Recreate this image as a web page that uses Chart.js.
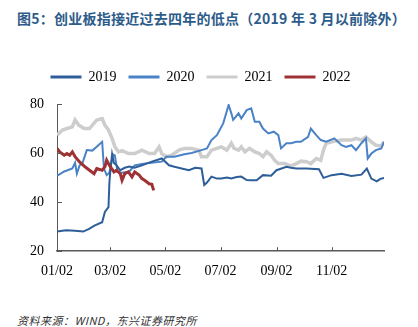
<!DOCTYPE html>
<html>
<head>
<meta charset="utf-8">
<script src="https://cdn.jsdelivr.net/npm/chart.js@4.4.0/dist/chart.umd.min.js"></script>
<style>
    body { margin: 0; width: 418px; height: 327px; background: #fff; position: relative; overflow: hidden; }
    #title { position: absolute; left: 17px; top: 8px; font: bold 14px "Noto Sans CJK SC"; color: #2E5C8A; letter-spacing: 0.25px; white-space: nowrap; }
    #source { position: absolute; left: 17px; top: 312px; font: italic 11px "Noto Sans CJK SC"; color: #333; letter-spacing: 0.5px; white-space: nowrap; }
    #wrap { position: absolute; left: 0; top: 0; width: 418px; height: 300px; }
</style>
</head>
<body>
<div id="title">图5：创业板指接近过去四年的低点（2019 年 3 月以前除外）</div>
<div id="wrap"><canvas id="myChart" width="418" height="300"></canvas></div>
<div id="source">资料来源：WIND，东兴证券研究所</div>
<script>
// x = days since 01/02
const xTickDays = [0, 59, 120, 181, 243, 304];
const xTickLabels = ['01/02', '03/02', '05/02', '07/02', '09/02', '11/02'];
const yTicks = [20, 40, 60, 80];

const days2019 = [0, 10, 20, 29, 35, 42, 50, 53, 57, 58, 59, 61, 63, 66, 70, 75, 80, 86, 94, 105, 116, 124, 130, 138, 146, 153, 160, 163, 166, 171, 177, 182, 188, 193, 199, 204, 210, 215, 221, 228, 237, 243, 254, 259, 265, 276, 290, 295, 304, 315, 326, 337, 343, 348, 354, 358, 362];
const vals2019 = [28, 28.5, 28.3, 28, 29, 30.5, 31.8, 36, 38, 48, 52.5, 59.5, 56, 55, 53, 54, 54.5, 54, 55, 56.5, 57.8, 55, 54.4, 53.7, 53, 54, 53.7, 47, 48, 50.4, 49.6, 49.6, 50, 49.6, 50.2, 50.4, 49, 48.9, 48.9, 51, 50.8, 53, 54.4, 54, 53.7, 53.7, 53.4, 49.9, 51, 51.6, 50.7, 51.2, 53.7, 49.6, 48.5, 49.5, 49.9];

const days2020 = [0, 8, 17, 20, 22, 25, 28, 33, 39, 44, 50, 52, 55, 58, 62, 64, 67, 72, 80, 86, 94, 102, 116, 121, 130, 141, 149, 160, 166, 171, 177, 184, 190, 193, 195, 201, 204, 210, 215, 219, 224, 228, 234, 240, 245, 248, 254, 259, 265, 270, 278, 281, 287, 292, 298, 307, 315, 320, 326, 331, 337, 342, 344, 348, 353, 359, 362];
const vals2020 = [50.7, 52.5, 53.7, 56, 51.6, 55, 55.7, 61.2, 61, 62.6, 64.6, 53.7, 51, 52, 59.5, 59.1, 52.3, 52, 52.5, 55, 55.5, 56, 56.5, 58.5, 58.5, 59.5, 60, 61.2, 61.9, 65.3, 67.3, 72.1, 79.6, 76.2, 73.5, 76.2, 74.1, 77.5, 78.2, 72.8, 72.8, 70, 68, 68.7, 67.3, 61.9, 64, 64, 64.6, 64.6, 66.6, 70, 67.3, 65.3, 64.6, 66, 63.2, 62.5, 63.2, 61.2, 64, 66, 57.8, 59.8, 61.2, 61.9, 64.6];

const days2021 = [0, 6, 11, 17, 20, 24, 30, 36, 44, 50, 53, 57, 61, 64, 68, 72, 79, 86, 94, 102, 108, 113, 116, 121, 127, 135, 141, 149, 157, 160, 166, 171, 177, 182, 188, 193, 196, 201, 204, 208, 213, 219, 224, 228, 232, 237, 241, 245, 252, 259, 265, 270, 276, 281, 287, 292, 295, 298, 304, 315, 326, 331, 337, 342, 348, 353, 359, 362];
const vals2021 = [67.3, 69.4, 70, 70.7, 73.5, 71.4, 70, 70, 73.5, 74.1, 71.4, 69.4, 66, 62.6, 60.5, 61, 59.8, 59.8, 61.2, 59.8, 59.8, 62.5, 59.8, 58.5, 59.1, 61.2, 61.9, 61.9, 61.2, 58.5, 58.5, 61.2, 61.9, 62.5, 61.2, 64, 61.9, 61.2, 62.5, 60.5, 61.9, 60.5, 59.8, 58.5, 60.5, 59.1, 57, 55.7, 55.7, 54.8, 55.7, 56.7, 56.5, 55.7, 57.8, 57, 61.2, 64, 64.6, 65.3, 65.3, 66, 65.3, 66.6, 64.6, 63.2, 62.9, 64.6];

const days2022 = [0, 3, 8, 11, 14, 17, 20, 25, 31, 36, 41, 44, 50, 53, 55, 58, 63, 66, 70, 72, 75, 79, 83, 86, 91, 94, 97, 102, 105, 107];
const vals2022 = [61.9, 60.5, 59.1, 59.8, 59.1, 60.5, 58.5, 56.4, 54.4, 53, 51.6, 53.7, 53, 54.4, 57.1, 55, 52.3, 53, 51.6, 48.9, 51.6, 52.3, 50.3, 52.3, 51, 49.6, 48.9, 47.5, 47.3, 44.8];

const axisColor = '#595959';
const toPoints = (d, v) => d.map((x, i) => ({ x: x, y: v[i] }));

const innerTicks = {
    id: 'innerTicks',
    beforeInit(chart) {
        const fit = chart.legend.fit;
        chart.legend.fit = function () {
            fit.bind(chart.legend)();
            this.height += 10;
        };
    },
    afterDraw(chart) {
        const ctx = chart.ctx;
        const xs = chart.scales.x, ys = chart.scales.y;
        ctx.save();
        ctx.strokeStyle = axisColor;
        ctx.lineWidth = 1;
        xTickDays.forEach(v => {
            const px = Math.round(xs.getPixelForValue(v)) + 0.5;
            ctx.beginPath(); ctx.moveTo(px, ys.bottom); ctx.lineTo(px, ys.bottom - 4); ctx.stroke();
        });
        yTicks.forEach(v => {
            const py = Math.round(ys.getPixelForValue(v)) + 0.5;
            ctx.beginPath(); ctx.moveTo(xs.left, py); ctx.lineTo(xs.left + 5, py); ctx.stroke();
        });
        ctx.restore();
    }
};

const ctx = document.getElementById('myChart');
new Chart(ctx, {
    type: 'line',
    data: {
        datasets: [
            { label: '2019', data: toPoints(days2019, vals2019), borderColor: '#2E5E9A', backgroundColor: '#2E5E9A', borderWidth: 2, order: 1 },
            { label: '2020', data: toPoints(days2020, vals2020), borderColor: '#4A82C6', backgroundColor: '#4A82C6', borderWidth: 2, order: 2 },
            { label: '2021', data: toPoints(days2021, vals2021), borderColor: '#CDCDCD', backgroundColor: '#CDCDCD', borderWidth: 3.5, order: 3 },
            { label: '2022', data: toPoints(days2022, vals2022), borderColor: '#9E3133', backgroundColor: '#9E3133', borderWidth: 3, order: 0 }
        ]
    },
    options: {
        responsive: false,
        animation: false,
        devicePixelRatio: 1,
        elements: { point: { radius: 0 }, line: { tension: 0 } },
        layout: { padding: { top: 58, left: 17, right: 34, bottom: 8 } },
        plugins: {
            tooltip: { enabled: false },
            legend: {
                position: 'top',
                labels: {
                    font: { family: 'Liberation Serif', size: 14 },
                    color: '#000',
                    boxWidth: 31,
                    boxHeight: 3,
                    padding: 12,
                    sort: (a, b) => a.datasetIndex - b.datasetIndex,
                    generateLabels(chart) {
                        return Chart.defaults.plugins.legend.labels.generateLabels(chart).map(l => {
                            l.lineWidth = 0;
                            l.fillStyle = l.strokeStyle;
                            return l;
                        });
                    }
                }
            }
        },
        scales: {
            x: {
                type: 'linear',
                min: 0,
                max: 362,
                afterBuildTicks: s => { s.ticks = xTickDays.map(v => ({ value: v })); },
                ticks: {
                    autoSkip: false,
                    maxRotation: 0,
                    padding: 12,
                    color: '#000',
                    font: { family: 'Liberation Serif', size: 14 },
                    callback: v => xTickLabels[xTickDays.indexOf(v)]
                },
                grid: { display: false, drawTicks: false },
                border: { color: axisColor, width: 1.5 }
            },
            y: {
                min: 20,
                max: 80,
                afterBuildTicks: s => { s.ticks = yTicks.map(v => ({ value: v })); },
                ticks: {
                    padding: 13,
                    color: '#000',
                    font: { family: 'Liberation Serif', size: 14 }
                },
                grid: { display: false, drawTicks: false },
                border: { color: axisColor, width: 1 }
            }
        }
    },
    plugins: [innerTicks]
});
</script>
</body>
</html>
